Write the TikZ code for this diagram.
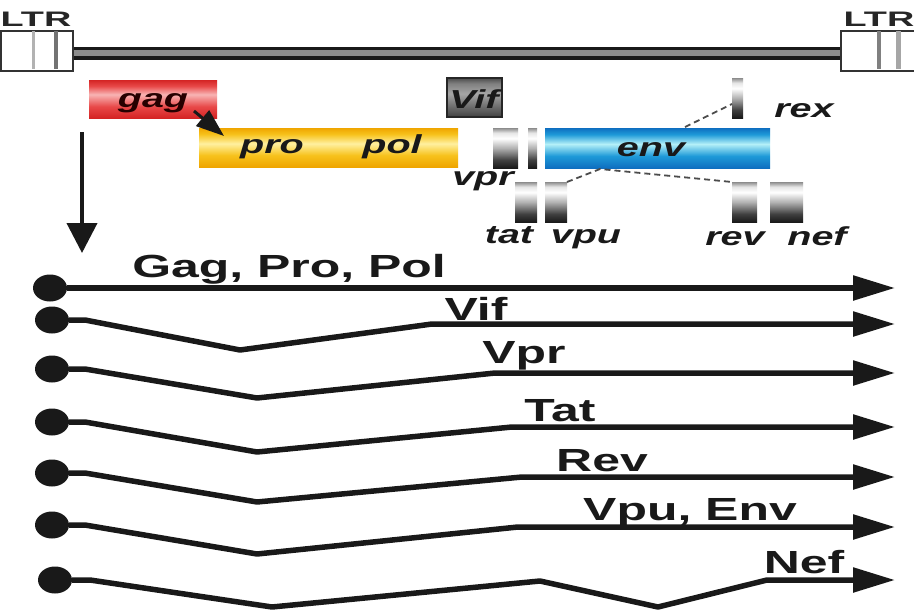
\documentclass[tikz,border=0pt]{standalone}
\usepackage{fontspec}
\newfontfamily\lblfont[FakeStretch=1.56]{Liberation Sans}
\newfontfamily\genefont[FakeStretch=1.52]{Liberation Sans}
\newfontfamily\ltrfont[FakeStretch=1.8]{Liberation Sans}
\usetikzlibrary{arrows.meta,shapes.geometric}
\definecolor{gagA}{HTML}{D42424}
\definecolor{gagB}{HTML}{E84848}
\definecolor{gagC}{HTML}{F8B4B4}
\definecolor{polA}{HTML}{EFA500}
\definecolor{polB}{HTML}{F7C21C}
\definecolor{polC}{HTML}{FFF0A0}
\definecolor{envA}{HTML}{0E6EC0}
\definecolor{envB}{HTML}{1E9AD8}
\definecolor{envC}{HTML}{B4F0F8}
\pgfdeclareverticalshading{gagsh}{100bp}{color(0bp)=(gagA); color(25bp)=(gagA); color(40bp)=(gagB); color(56bp)=(gagC); color(67bp)=(gagB); color(75bp)=(gagA); color(100bp)=(gagA)}
\pgfdeclareverticalshading{polsh}{100bp}{color(0bp)=(polA); color(25bp)=(polA); color(40bp)=(polB); color(55bp)=(polC); color(67bp)=(polB); color(75bp)=(polA); color(100bp)=(polA)}
\pgfdeclareverticalshading{envsh}{100bp}{color(0bp)=(envA); color(25bp)=(envA); color(40bp)=(envB); color(55bp)=(envC); color(67bp)=(envB); color(75bp)=(envA); color(100bp)=(envA)}
\pgfdeclareverticalshading{metalsh}{100bp}{color(0bp)=(black!90); color(25bp)=(black!90); color(35bp)=(black!75); color(50bp)=(black!30); color(62bp)=(white); color(69bp)=(black!10); color(75bp)=(black!45); color(100bp)=(black!45)}
\pgfdeclareverticalshading{vifsh}{100bp}{color(0bp)=(black!75); color(25bp)=(black!75); color(40bp)=(black!55); color(55bp)=(black!35); color(68bp)=(black!50); color(75bp)=(black!70); color(100bp)=(black!70)}
\begin{document}
\begin{tikzpicture}[x=1pt,y=-1pt,
  gene/.style={inner sep=0pt, outer sep=0pt, draw=none, shade},
  genelab/.style={inner sep=0pt, anchor=base, text=black!90,
    font=\genefont\bfseries\itshape\fontsize{26}{28}\selectfont},
  tlab/.style={inner sep=0pt, anchor=base, text=black!90,
    font=\lblfont\bfseries\fontsize{32}{34}\selectfont},
  ltrlab/.style={inner sep=0pt, anchor=base, text=black!85,
    font=\ltrfont\bfseries\fontsize{21}{23}\selectfont},
  ltrbox/.style={draw=black!80, line width=2pt, fill=white, inner sep=0pt,
    minimum width=72pt, minimum height=40pt, anchor=north west},
  dotn/.style={ellipse, fill=black!90, inner sep=0pt, minimum width=34pt, minimum height=27pt},
  tline/.style={line width=5.5pt, draw=black!90, line join=round,
    -{Triangle[length=42pt,width=24pt]}},
  splice/.style={draw=black!70, line width=1.8pt, dash pattern=on 6pt off 4pt},
  bigarrow/.style={line width=4pt, draw=black!90, -{Triangle[length=30pt,width=30pt]}},
  fsarrow/.style={line width=3pt, draw=black!90, -{Triangle[length=28pt,width=20pt]}}
]
\useasboundingbox (0,0) rectangle (914,613);
\fill[white] (0,0) rectangle (914,613);

% LTRs and genome line
\node[ltrbox] (ltrL) at (0,30) {};
\node[ltrbox, minimum width=90pt] (ltrR) at (840,30) {};
\draw[black!30, line width=3pt] (33,31) -- (33,69);
\draw[black!55, line width=4pt] (56,31) -- (56,69);
\draw[black!50, line width=4pt] (879,31) -- (879,69);
\draw[black!35, line width=5pt] (898,31) -- (898,69);
\draw[line width=3.5pt, draw=black!90, double=black!45, double distance=6pt]
  ([yshift=-2pt]ltrL.east) -- ([yshift=-2pt]ltrR.west);
\node[ltrlab] (ltrLt) at (36,27) {LTR};
\node[ltrlab] (ltrRt) at (879,27) {LTR};

% genes
\node[gene, shading=gagsh, minimum width=128pt, minimum height=38pt] (gag) at (153,99) {};
\node[gene, shading=polsh, minimum width=259pt, minimum height=39pt] (pol) at (328.5,147.5) {};
\node[gene, shading=envsh, minimum width=225pt, minimum height=40pt] (env) at (657.5,148) {};
\node[gene, shading=metalsh, minimum width=25pt, minimum height=40pt] (vpr) at (505.5,148) {};
\node[gene, shading=metalsh, minimum width=9pt, minimum height=40pt] (tatA) at (532.5,148) {};
\node[gene, shading=vifsh, draw=black!85, line width=1.5pt, minimum width=55pt, minimum height=39pt] (vif) at (474.5,97.5) {};
\node[gene, shading=metalsh, minimum width=11pt, minimum height=40pt] (rex) at (737.5,98) {};
\node[gene, shading=metalsh, minimum width=22pt, minimum height=40pt] (tat) at (526,202) {};
\node[gene, shading=metalsh, minimum width=22pt, minimum height=40pt] (vpu) at (556,202) {};
\node[gene, shading=metalsh, minimum width=25pt, minimum height=40pt] (rev) at (744.5,202) {};
\node[gene, shading=metalsh, minimum width=33pt, minimum height=40pt] (nef) at (786.5,202) {};

% gene labels
\node[genelab, text=black!85!red] (gagt) at (153,107) {gag};
\node[genelab] (prot) at (272,153) {pro};
\node[genelab] (polt) at (392,153) {pol};
\node[genelab] (vift) at (474,108) {Vif};
\node[genelab] (envt) at (651,156) {env};
\node[genelab] (rext) at (804,117) {rex};
\node[genelab] (vprt) at (483,185) {vpr};
\node[genelab] (tatt) at (509,243) {tat};
\node[genelab] (vput) at (586,243) {vpu};
\node[genelab] (revt) at (735,245) {rev};
\node[genelab] (neft) at (817,245) {nef};

% splicing dashes
\coordinate (spl) at (600,169);
\coordinate (rexj) at (685,127);
\draw[splice] (vpu.north east) -- (spl) -- (rev.north west);
\draw[splice] (rexj) -- ([yshift=-6pt]rex.west);

% frameshift arrow and down arrow
\coordinate (fs0) at (194,111);
\coordinate (fs1) at (224,136);
\draw[fsarrow] (fs0) -- (fs1);
\coordinate (dn0) at (82,132);
\coordinate (dn1) at (82,253);
\draw[bigarrow] (dn0) -- (dn1);

% transcripts
\node[dotn] (d1) at (50,288) {};
\node[dotn] (d2) at (52,320) {};
\node[dotn] (d3) at (52,369) {};
\node[dotn] (d4) at (52,422) {};
\node[dotn] (d5) at (52,473) {};
\node[dotn] (d6) at (52,525) {};
\node[dotn] (d7) at (55,580) {};
\coordinate (e1) at (895,288);
\coordinate (e2) at (895,324);
\coordinate (e3) at (895,373);
\coordinate (e4) at (895,427);
\coordinate (e5) at (895,477);
\coordinate (e6) at (895,527);
\coordinate (e7) at (895,580);
\draw[tline] (d1) -- (e1);
\draw[tline] (d2) -- (85,320) -- (240,350) -- (432,324) -- (e2);
\draw[tline] (d3) -- (85,369) -- (257,398) -- (495,373) -- (e3);
\draw[tline] (d4) -- (85,422) -- (257,452) -- (512,427) -- (e4);
\draw[tline] (d5) -- (85,473) -- (257,502) -- (522,477) -- (e5);
\draw[tline] (d6) -- (85,525) -- (257,554) -- (518,527) -- (e6);
\draw[tline] (d7) -- (90,580) -- (272,607) -- (540,581) -- (658,607) -- (767,580) -- (e7);

% transcript labels
\node[tlab] (l1) at (289,277) {Gag, Pro, Pol};
\node[tlab] (l2) at (476,320) {Vif};
\node[tlab] (l3) at (524,363) {Vpr};
\node[tlab] (l4) at (560,421) {Tat};
\node[tlab] (l5) at (602,471) {Rev};
\node[tlab] (l6) at (690,520) {Vpu, Env};
\node[tlab] (l7) at (804,573) {Nef};
\end{tikzpicture}
\end{document}
